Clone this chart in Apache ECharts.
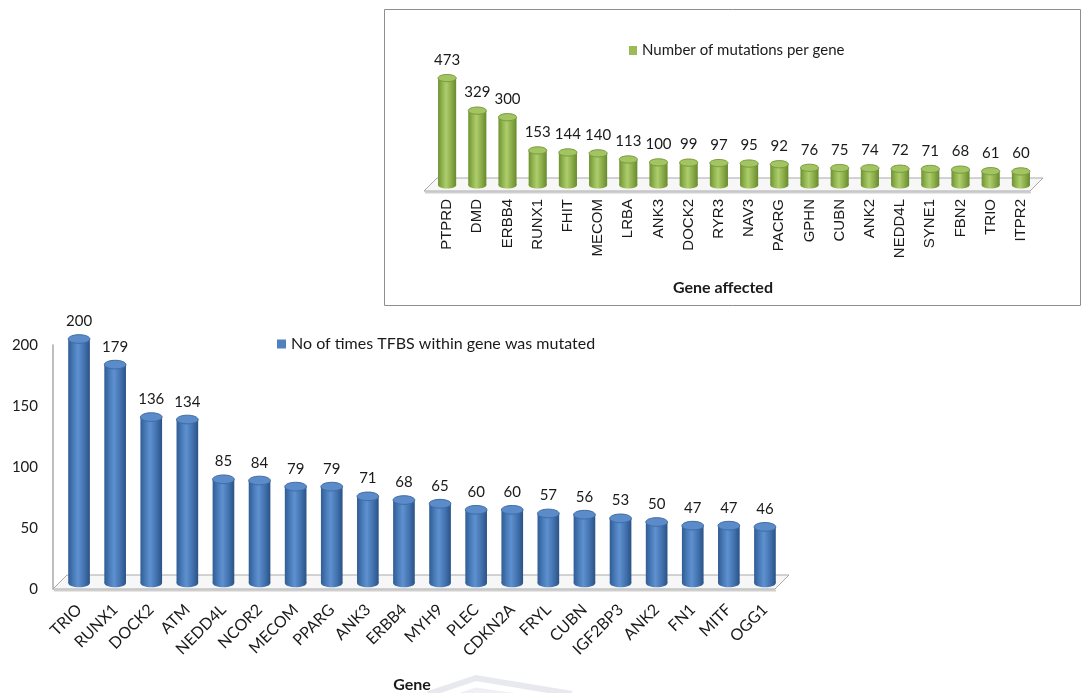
<!DOCTYPE html>
<html>
<head>
<meta charset="utf-8">
<script src="https://cdn.jsdelivr.net/npm/echarts@6/dist/echarts.min.js"></script>
<style>
  html, body { margin: 0; padding: 0; background: #ffffff; }
  #chart { width: 1082px; height: 693px; }
</style>
</head>
<body>
<div id="chart"></div>
<script>
// Genes whose TFBS were mutated, and how often
const tfbsGenes = ['TRIO', 'RUNX1', 'DOCK2', 'ATM', 'NEDD4L', 'NCOR2', 'MECOM', 'PPARG', 'ANK3', 'ERBB4',
  'MYH9', 'PLEC', 'CDKN2A', 'FRYL', 'CUBN', 'IGF2BP3', 'ANK2', 'FN1', 'MITF', 'OGG1'];
const tfbsCounts = [200, 179, 136, 134, 85, 84, 79, 79, 71, 68, 65, 60, 60, 57, 56, 53, 50, 47, 47, 46];
const tfbsAxisMax = 200;
const tfbsAxisStep = 50;

// Genes with the most mutations
const mutGenes = ['PTPRD', 'DMD', 'ERBB4', 'RUNX1', 'FHIT', 'MECOM', 'LRBA', 'ANK3', 'DOCK2', 'RYR3',
  'NAV3', 'PACRG', 'GPHN', 'CUBN', 'ANK2', 'NEDD4L', 'SYNE1', 'FBN2', 'TRIO', 'ITPR2'];
const mutCounts = [473, 329, 300, 153, 144, 140, 113, 100, 99, 97, 95, 92, 76, 75, 74, 72, 71, 68, 61, 60];
const mutAxisMax = 500;

const tfbsName = 'No of times TFBS within gene was mutated';
const mutName = 'Number of mutations per gene';

const LABEL_FONT = 'Lato, "Open Sans", sans-serif';
const AXIS_FONT = '"Liberation Sans", Arial, sans-serif';

// Draws a shaded cylinder standing on the floor, with its value above it
function cylinder(bodyStops, capFill, capStroke, liftY, labelGap) {
  return function (params, api) {
    const idx = api.value(0);
    const val = api.value(1);
    const top = api.coord([idx, val]);
    const base = api.coord([idx, 0]);
    const w = api.size([1, 0])[0] * 0.6;
    const cx = top[0];
    const rx = w / 2;
    const ry = Math.max(3, w * 0.2);
    const yTop = top[1] + liftY;
    const yBase = base[1] + liftY;
    const body = { type: 'linear', x: 0, y: 0, x2: 1, y2: 0, colorStops: bodyStops };
    return {
      type: 'group',
      children: [
        { type: 'ellipse', shape: { cx: cx, cy: yBase, rx: rx, ry: ry }, style: { fill: body } },
        { type: 'rect', shape: { x: cx - rx, y: yTop, width: w, height: yBase - yTop }, style: { fill: body } },
        { type: 'ellipse', shape: { cx: cx, cy: yTop, rx: rx, ry: ry },
          style: { fill: capFill, stroke: capStroke, lineWidth: 1 } },
        { type: 'text', x: cx, y: yTop - ry - labelGap,
          style: { text: String(val), align: 'center', verticalAlign: 'bottom',
                   fontFamily: LABEL_FONT, fontSize: 15, fill: '#1a1a1a' } }
      ]
    };
  };
}

// Draws the receding floor under a row of cylinders
function floor(shiftL, shiftR, depthX, depthY) {
  return function (params, api) {
    const cs = params.coordSys;
    const yF = cs.y + cs.height;
    const xL = cs.x + shiftL;
    const xR = cs.x + cs.width + shiftR;
    const pts = [[xL, yF], [xL + depthX, yF - depthY], [xR + depthX, yF - depthY], [xR, yF]];
    return {
      type: 'group',
      children: [
        { type: 'line', shape: { x1: xL + 1, y1: yF + 1.5, x2: xR + 1, y2: yF + 1.5 },
          style: { stroke: '#cfcfcf', lineWidth: 2 } },
        { type: 'polygon', shape: { points: pts },
          style: { fill: '#f7f7f7', stroke: '#a9a9a9', lineWidth: 1 } }
      ]
    };
  };
}

const blueStops = [
  { offset: 0, color: '#2f5c94' },
  { offset: 0.25, color: '#4a7cba' },
  { offset: 0.45, color: '#5f90cf' },
  { offset: 0.7, color: '#4677b4' },
  { offset: 1, color: '#2a5286' }
];
const greenStops = [
  { offset: 0, color: '#6f9132' },
  { offset: 0.25, color: '#93b653' },
  { offset: 0.45, color: '#aecd6c' },
  { offset: 0.7, color: '#8fb04d' },
  { offset: 1, color: '#678a2c' }
];

const chart = echarts.init(document.getElementById('chart'), null, { renderer: 'canvas' });

chart.setOption({
  animation: false,
  backgroundColor: '#ffffff',
  graphic: [
    // frame around the mutation-count panel
    { type: 'rect', z: -10, shape: { x: 384.5, y: 9.5, width: 696, height: 296 },
      style: { fill: '#ffffff', stroke: '#8e8e8e', lineWidth: 1 } },
    // faint emblem along the bottom edge
    { type: 'polyline', z: -10, shape: { points: [[428, 694], [476, 678], [572, 694]] },
      style: { stroke: '#e8e8ef', lineWidth: 6, fill: null } },
    { type: 'polyline', z: -10, shape: { points: [[452, 698], [476, 690], [530, 698]] },
      style: { stroke: '#efeff4', lineWidth: 5, fill: null } }
  ],
  legend: [
    { data: [tfbsName], left: 277, top: 336, padding: 0, icon: 'rect',
      itemWidth: 9, itemHeight: 9, itemGap: 0, selectedMode: false,
      textStyle: { fontFamily: LABEL_FONT, fontSize: 16, color: '#1a1a1a' } },
    { data: [mutName], left: 629, top: 43, padding: 0, icon: 'rect',
      itemWidth: 8, itemHeight: 9, itemGap: 0, selectedMode: false,
      textStyle: { fontFamily: LABEL_FONT, fontSize: 15, color: '#1a1a1a' } }
  ],
  grid: [
    { left: 61, width: 722, top: 345, height: 244, outerBoundsMode: 'none', containLabel: false },
    { left: 432, width: 604, top: 78, height: 113, outerBoundsMode: 'none', containLabel: false }
  ],
  xAxis: [
    {
      type: 'category', gridIndex: 0, data: tfbsGenes,
      axisLine: { show: false }, axisTick: { show: false },
      axisLabel: { rotate: 45, margin: 18, interval: 0, fontFamily: LABEL_FONT, fontSize: 16, color: '#1a1a1a' },
      name: 'Gene', nameLocation: 'middle', nameGap: 88,
      nameTextStyle: { fontFamily: LABEL_FONT, fontSize: 16, fontWeight: 'bold', color: '#1a1a1a',
                       padding: [0, 20, 0, 0] }
    },
    {
      type: 'category', gridIndex: 1, data: mutGenes,
      axisLine: { show: false }, axisTick: { show: false },
      axisLabel: { rotate: 90, margin: 8, interval: 0, fontFamily: AXIS_FONT, fontSize: 15, color: '#1a1a1a' },
      name: 'Gene affected', nameLocation: 'middle', nameGap: 89,
      nameTextStyle: { fontFamily: LABEL_FONT, fontSize: 16, fontWeight: 'bold', color: '#1a1a1a',
                       padding: [0, 22, 0, 0] }
    }
  ],
  yAxis: [
    {
      type: 'value', gridIndex: 0, min: 0, max: tfbsAxisMax, interval: tfbsAxisStep, offset: 8,
      axisLine: { show: true, lineStyle: { color: '#a9a9a9', width: 1.5 } },
      axisTick: { show: false }, splitLine: { show: false },
      axisLabel: { margin: 15, fontFamily: LABEL_FONT, fontSize: 15, color: '#1a1a1a' }
    },
    {
      type: 'value', gridIndex: 1, min: 0, max: mutAxisMax, show: false,
      splitLine: { show: false }
    }
  ],
  series: [
    {
      name: 'tfbsFloor', type: 'custom', xAxisIndex: 0, yAxisIndex: 0, silent: true, clip: false, z: 1,
      renderItem: floor(-8, -8, 14, 14), data: [[0, 0]]
    },
    {
      name: tfbsName, type: 'custom', xAxisIndex: 0, yAxisIndex: 0, silent: true, clip: false, z: 2,
      itemStyle: { color: '#4f81bd' },
      renderItem: cylinder(blueStops, '#5b8cc9', '#3f6ca6', -6, 6),
      data: tfbsCounts.map(function (v, i) { return [i, v]; })
    },
    {
      name: 'mutFloor', type: 'custom', xAxisIndex: 1, yAxisIndex: 1, silent: true, clip: false, z: 1,
      renderItem: floor(-8, -6, 13, 13), data: [[0, 0]]
    },
    {
      name: mutName, type: 'custom', xAxisIndex: 1, yAxisIndex: 1, silent: true, clip: false, z: 2,
      itemStyle: { color: '#9bbb59' },
      renderItem: cylinder(greenStops, '#a3c462', '#7a9a3c', -6, 7),
      data: mutCounts.map(function (v, i) { return [i, v]; })
    }
  ]
});
</script>
</body>
</html>
